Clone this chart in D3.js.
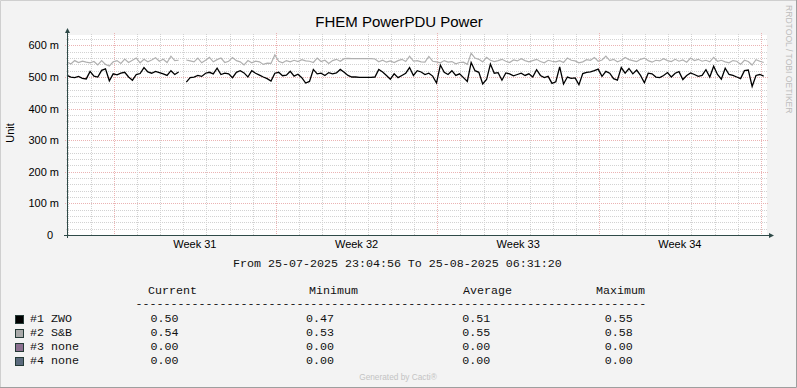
<!DOCTYPE html>
<html>
<head>
<meta charset="utf-8">
<script src="https://cdn.jsdelivr.net/npm/d3@7"></script>
<style>
  body { margin: 0; background: #f3f3f3; }
  svg { display: block; }
  text { font-family: "Liberation Sans", Arial, sans-serif; }
  .mono { font-family: "Liberation Mono", "Courier New", monospace; font-size: 11.67px; fill: #111; }
</style>
</head>
<body>
<div id="chart"></div>
<script>
// time window of the graph
const tStart = new Date(Date.UTC(2025, 6, 25, 23, 4, 56))
const tEnd = new Date(Date.UTC(2025, 7, 25, 6, 31, 20))
const stepHours = 4

// #1 ZWO, one value every 4 hours (null = no data)
const zwo = [
  0.505, 0.500, 0.498, 0.502, 0.496, 0.494,
  0.518, 0.503, 0.500, 0.521, 0.526, 0.488,
  0.510, 0.507, 0.512, 0.515, 0.500, 0.490,
  0.508, 0.511, 0.530, 0.516, 0.512, 0.518,
  0.514, 0.510, 0.505, 0.520, 0.508, 0.516,
  null, 0.484, 0.498, 0.500, 0.505, 0.502,
  0.512, 0.515, 0.510, 0.528, 0.508, 0.512,
  0.510, 0.498, 0.515, 0.520, 0.513, 0.500,
  0.520, 0.512, 0.506, 0.500, 0.495, 0.487,
  0.512, 0.515, 0.504, 0.506, 0.518, 0.503,
  0.509, 0.498, 0.481, 0.486, 0.524, 0.510,
  0.512, 0.505, 0.514, 0.510, 0.513, 0.524,
  0.515, 0.505, 0.500, 0.500, 0.499, 0.499,
  0.499, 0.499, 0.500, 0.524, 0.516, 0.505,
  0.493, 0.510, 0.498, 0.505, 0.512, 0.530,
  0.505, 0.520, 0.516, 0.508, 0.512, 0.503,
  0.481, 0.538, 0.515, 0.508, 0.520, 0.505,
  0.510, 0.498, 0.486, 0.546, 0.520, 0.515,
  0.478, 0.492, 0.541, 0.512, 0.514, 0.490,
  0.513, 0.510, 0.504, 0.508, 0.512, 0.505,
  0.510, 0.500, 0.523, 0.505, 0.498, 0.502,
  0.480, 0.485, 0.532, 0.478, 0.500, 0.496,
  0.497, 0.476, 0.511, 0.515, 0.516, 0.520,
  0.525, 0.502, 0.518, 0.512, 0.495, 0.490,
  0.530, 0.512, 0.527, 0.510, 0.522, 0.505,
  0.482, 0.512, 0.510, 0.500, 0.498, 0.505,
  0.514, 0.500, 0.512, 0.517, 0.492, 0.505,
  0.513, 0.508, 0.502, 0.505, 0.523, 0.500,
  0.534, 0.508, 0.493, 0.528, 0.508, 0.505,
  0.500, 0.495, 0.520, 0.522, 0.470, 0.505,
  0.508, 0.503
]

// #2 S&B
const snb = [
  0.548, 0.541, 0.552, 0.546, 0.550, 0.547,
  0.545, 0.549, 0.538, 0.552, 0.540, 0.535,
  0.548, 0.552, 0.543, 0.557, 0.546, 0.553,
  0.560, 0.545, 0.556, 0.548, 0.554, 0.561,
  0.550, 0.556, 0.546, 0.566, 0.552, 0.553,
  null, 0.554, 0.551, 0.548, 0.560, 0.545,
  0.553, 0.562, 0.548, 0.555, 0.560, 0.546,
  0.550, 0.562, 0.552, 0.548, 0.538, 0.552,
  0.545, 0.550, 0.548, 0.540, 0.544, 0.543,
  0.570, 0.550, 0.545, 0.552, 0.548, 0.553,
  0.549, 0.555, 0.551, 0.550, 0.546, 0.560,
  0.549, 0.553, 0.543, 0.552, 0.556, 0.550,
  0.558, 0.559, 0.558, 0.558, 0.558, 0.558,
  0.558, 0.558, 0.557, 0.548, 0.553, 0.547,
  0.551, 0.546, 0.552, 0.556, 0.549, 0.566,
  0.550, 0.552, 0.548, 0.547, 0.565, 0.550,
  0.548, 0.545, 0.552, 0.547, 0.549, 0.542,
  0.546, 0.547, 0.540, 0.575, 0.560, 0.556,
  0.548, 0.562, 0.553, 0.549, 0.552, 0.556,
  0.550, 0.546, 0.554, 0.551, 0.558, 0.552,
  0.548, 0.552, 0.556, 0.549, 0.545, 0.553,
  0.550, 0.548, 0.552, 0.546, 0.560, 0.553,
  0.551, 0.545, 0.548, 0.555, 0.553, 0.562,
  0.550, 0.554, 0.566, 0.552, 0.556, 0.548,
  0.553, 0.562, 0.555, 0.552, 0.549, 0.556,
  0.560, 0.552, 0.547, 0.553, 0.551, 0.558,
  0.552, 0.549, 0.556, 0.550, 0.554, 0.547,
  0.560, 0.552, 0.556, 0.550, 0.553, 0.548,
  0.562, 0.550, 0.553, 0.548, 0.545, 0.552,
  0.550, 0.540, 0.553, 0.549, 0.538, 0.555,
  0.550, 0.546
]

const yTicks = [0, 0.1, 0.2, 0.3, 0.4, 0.5, 0.6]
const yMax = 0.633
const weeks = [31, 32, 33, 34]

// legend table
const seriesNames = ["#1 ZWO", "#2 S&B", "#3 none", "#4 none"]
const statHeads = ["Current", "Minimum", "Average", "Maximum"]
const statRows = [
  ["0.50", "0.47", "0.51", "0.55"],
  ["0.54", "0.53", "0.55", "0.58"],
  ["0.00", "0.00", "0.00", "0.00"],
  ["0.00", "0.00", "0.00", "0.00"]
]

const seriesColors = ["#000000", "#a9a9a9", "#8c7090", "#5b6a7d"]

const w = 797, h = 388
const X0 = 67, X1 = 767, Y0 = 235, Y1 = 35
const gridCol = "#d2d2d2", mgridCol = "#ebb3b3", axisCol = "#2f4a48"

const svg = d3.select("#chart").append("svg")
  .attr("width", w).attr("height", h)

// frame
svg.append("rect").attr("width", w).attr("height", h).attr("fill", "#f3f3f3")
svg.append("path").attr("d", `M0.5,${h} V0.5 H${w}`).attr("fill", "none").attr("stroke", "#cfcfcf")
svg.append("path").attr("d", `M0,${h - 0.5} H${w - 0.5} V0`).attr("fill", "none").attr("stroke", "#9e9e9e")

svg.append("rect").attr("x", X0).attr("y", Y1).attr("width", X1 - X0).attr("height", Y0 - Y1).attr("fill", "#fff")

const x = d3.scaleUtc().domain([tStart, tEnd]).range([X0, X1])
const y = d3.scaleLinear().domain([0, yMax]).range([Y0, Y1])

const grid = svg.append("g").attr("shape-rendering", "crispEdges")

// horizontal grid: minor every 20 m, major every 100 m
const minorY = d3.range(1, 32).map(i => i * 0.02).filter(v => v < yMax && Math.round(v * 50) % 5 !== 0)
grid.selectAll(".hmin").data(minorY).enter().append("line")
  .attr("x1", X0 - 1).attr("x2", X1 + 1)
  .attr("y1", d => Math.round(y(d)) + 0.5).attr("y2", d => Math.round(y(d)) + 0.5)
  .attr("stroke", gridCol).attr("stroke-dasharray", "1,1")
grid.selectAll(".hmaj").data(yTicks.slice(1)).enter().append("line")
  .attr("x1", X0 - 2).attr("x2", X1 + 2)
  .attr("y1", d => Math.round(y(d)) + 0.5).attr("y2", d => Math.round(y(d)) + 0.5)
  .attr("stroke", mgridCol).attr("stroke-dasharray", "1,1")

// vertical grid: minor each day, major each monday
const days = d3.utcDay.range(d3.utcDay.ceil(tStart), tEnd).filter(d => d.getUTCDay() !== 1)
const mondays = d3.utcMonday.range(tStart, tEnd)
grid.selectAll(".vmin").data(days).enter().append("line")
  .attr("x1", d => Math.round(x(d)) + 0.5).attr("x2", d => Math.round(x(d)) + 0.5)
  .attr("y1", Y1 - 1).attr("y2", Y0 + 1)
  .attr("stroke", gridCol).attr("stroke-dasharray", "1,1")
grid.selectAll(".vmaj").data(mondays).enter().append("line")
  .attr("x1", d => Math.round(x(d)) + 0.5).attr("x2", d => Math.round(x(d)) + 0.5)
  .attr("y1", Y1 - 2).attr("y2", Y0 + 2)
  .attr("stroke", mgridCol).attr("stroke-dasharray", "1,1")

// series
const toPts = arr => arr.map((v, i) => ({ t: d3.utcHour.offset(tStart, i * stepHours), v }))
const line = d3.line().defined(d => d.v != null).x(d => x(d.t)).y(d => y(d.v))

svg.append("path").datum(toPts(zwo)).attr("d", line)
  .attr("fill", "none").attr("stroke", seriesColors[0]).attr("stroke-width", 1.3)
svg.append("path").datum(toPts(snb)).attr("d", line)
  .attr("fill", "none").attr("stroke", "#b0b0b0").attr("stroke-width", 1.2)

// axes with arrows
const ax = svg.append("g").attr("shape-rendering", "crispEdges")
ax.append("line").attr("x1", X0 + 0.5).attr("x2", X0 + 0.5).attr("y1", Y0 + 3).attr("y2", Y1 - 3).attr("stroke", axisCol)
ax.append("line").attr("x1", X0 - 3).attr("x2", X1 + 3).attr("y1", Y0 + 0.5).attr("y2", Y0 + 0.5).attr("stroke", axisCol)
svg.append("path").attr("d", `M${X0 + 0.5},${Y1 - 7} L${X0 + 3},${Y1 - 2} L${X0 - 2},${Y1 - 2} Z`).attr("fill", axisCol)
svg.append("path").attr("d", `M${X1 + 7},${Y0 + 0.5} L${X1 + 2},${Y0 + 3} L${X1 + 2},${Y0 - 2} Z`).attr("fill", axisCol)

// y labels
svg.selectAll(".ylab").data(yTicks).enter().append("text")
  .attr("x", d => d === 0 ? 53 : 59)
  .attr("y", d => y(d) + 4)
  .attr("text-anchor", "end")
  .attr("font-size", 11)
  .attr("fill", "#000")
  .text(d => d === 0 ? "0" : `${Math.round(d * 1000)} m`)

// week labels, centred on the week
svg.selectAll(".xlab").data(weeks).enter().append("text")
  .attr("x", (d, i) => (x(mondays[i]) + x(d3.utcMonday.offset(mondays[i], 1))) / 2)
  .attr("y", 248)
  .attr("text-anchor", "middle")
  .attr("font-size", 11)
  .text(d => `Week ${d}`)

// title and labels
svg.append("text").attr("x", 399).attr("y", 27).attr("text-anchor", "middle")
  .attr("font-size", 15).text("FHEM PowerPDU Power")
svg.append("text").attr("transform", "translate(14,133) rotate(-90)").attr("text-anchor", "middle")
  .attr("font-size", 11).text("Unit")
svg.append("text").attr("transform", "translate(785.5,5) rotate(90)")
  .attr("font-size", 8.6).attr("fill", "#bdbdbd").text("RRDTOOL / TOBI OETIKER")
svg.append("text").attr("x", 398).attr("y", 380).attr("text-anchor", "middle")
  .attr("font-size", 8.3).attr("fill", "#c3c3c3").text("Generated by Cacti®")

// legend
const fmt = d3.utcFormat("%d-%m-%Y %H:%M:%S")
svg.append("text").attr("class", "mono").attr("x", 233).attr("y", 267)
  .attr("xml:space", "preserve").text(`From ${fmt(tStart)} To ${fmt(tEnd)}`)

const headX = [148, 309, 463, 596]
const valX = [150.5, 306, 462.3, 604.7]
svg.selectAll(".head").data(statHeads).enter().append("text")
  .attr("class", "mono").attr("x", (d, i) => headX[i]).attr("y", 294).text(d => d)
svg.append("text").attr("class", "mono").attr("x", 135.5).attr("y", 307).text("-".repeat(73))

const rows = svg.selectAll(".row").data(seriesNames).enter().append("g")
  .attr("transform", (d, i) => `translate(0,${322 + i * 14})`)
rows.append("rect").attr("x", 15.5).attr("y", -6.5).attr("width", 8).attr("height", 8)
  .attr("fill", (d, i) => seriesColors[i]).attr("stroke", "#243a36")
rows.append("text").attr("class", "mono").attr("x", 30).attr("y", 0)
  .attr("xml:space", "preserve").text(d => d)
rows.each(function (d, i) {
  d3.select(this).selectAll(".v").data(statRows[i]).enter().append("text")
    .attr("class", "mono").attr("x", (v, j) => valX[j]).attr("y", 0).text(v => v)
})
</script>
</body>
</html>
